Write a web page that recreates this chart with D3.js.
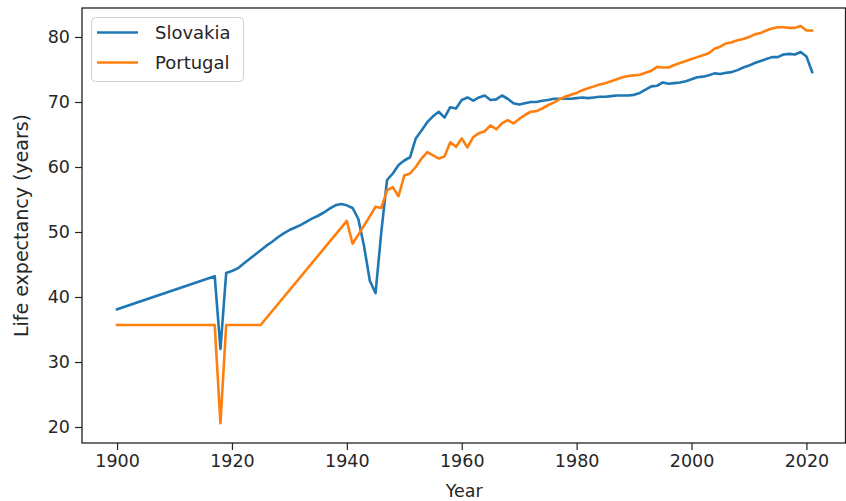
<!DOCTYPE html>
<html>
<head>
<meta charset="utf-8">
<script src="https://cdn.jsdelivr.net/npm/d3@7"></script>
<style>
  html, body { margin: 0; padding: 0; background: #fff; }
  svg { display: block; font-family: "DejaVu Sans", sans-serif; }
</style>
</head>
<body>
<svg id="chart" width="846" height="501"></svg>
<script>
// ---- data ----
const seriesNames = ["Slovakia", "Portugal"];
const seriesColors = ["#1f77b4", "#ff7f0e"];

const slovakiaYears = [1900, 1917, 1918].concat(d3.range(1919, 2022));
const slovakiaValues = [
  38.1, 43.2, 32.0,
  43.7, 44.0, 44.4, 45.1, 45.8, 46.5, 47.2, 47.9, 48.5, 49.2,
  49.8, 50.3, 50.7, 51.1, 51.6, 52.1, 52.5, 53.0, 53.6, 54.1,
  54.3, 54.1, 53.7, 52.0, 47.8, 42.5, 40.6, 50.0, 58.0, 59.0,
  60.3, 61.0, 61.5, 64.4, 65.6, 66.9, 67.8, 68.5, 67.6, 69.2,
  69.0, 70.3, 70.7, 70.2, 70.7, 71.0, 70.3, 70.4, 71.0, 70.5,
  69.8, 69.6, 69.8, 70.0, 70.0, 70.2, 70.3,
  70.5, 70.5, 70.5, 70.5, 70.6, 70.7, 70.6, 70.7, 70.8, 70.8,
  70.9, 71.0, 71.0, 71.0, 71.1, 71.4, 71.9, 72.4, 72.5, 73.0,
  72.8, 72.9, 73.0, 73.2, 73.5, 73.8, 73.9, 74.1, 74.4, 74.3,
  74.5, 74.6, 74.9, 75.3, 75.6, 76.0, 76.3, 76.6, 76.9, 76.9,
  77.3, 77.4, 77.3, 77.7, 77.0, 74.6
];

const portugalYears = [1900, 1917, 1918, 1919, 1925].concat(d3.range(1940, 2022));
const portugalValues = [
  35.7, 35.7, 20.6, 35.7, 35.7,
  51.7,
  48.2, 49.6, 51.0, 52.4, 53.9, 53.7, 56.4, 56.9, 55.5, 58.7,
  59.0, 60.0, 61.3, 62.3, 61.8, 61.3, 61.6, 63.8, 63.1, 64.4,
  63.0, 64.6, 65.2, 65.5, 66.4, 65.8, 66.7, 67.2, 66.7, 67.4,
  68.0, 68.5, 68.6, 69.0, 69.5,
  69.9, 70.4, 70.8, 71.1, 71.4, 71.8, 72.1, 72.4, 72.7, 72.9,
  73.2, 73.5, 73.8, 74.0, 74.1, 74.2, 74.5, 74.8, 75.4, 75.3,
  75.3, 75.7, 76.0, 76.3, 76.6, 76.9, 77.2, 77.5, 78.2, 78.5,
  79.0, 79.2, 79.5, 79.7, 80.0, 80.4, 80.6, 81.0, 81.3, 81.5,
  81.5, 81.4, 81.4, 81.7, 81.0, 81.0
];

const xTicks = [1900, 1920, 1940, 1960, 1980, 2000, 2020];
const yTicks = [20, 30, 40, 50, 60, 70, 80];
const xLabel = "Year";
const yLabel = "Life expectancy (years)";

// ---- layout ----
const svg = d3.select("#chart");
const plot = { left: 82, top: 8, right: 845.5, bottom: 443 };

const x = d3.scaleLinear().domain([1893.9, 2026.8]).range([plot.left, plot.right]);
const y = d3.scaleLinear().domain([17.54, 84.46]).range([plot.bottom, plot.top]);

const series = [
  { name: seriesNames[0], color: seriesColors[0], pts: slovakiaYears.map((yr, i) => [yr, slovakiaValues[i]]) },
  { name: seriesNames[1], color: seriesColors[1], pts: portugalYears.map((yr, i) => [yr, portugalValues[i]]) }
];

const line = d3.line().x(d => x(d[0])).y(d => y(d[1]));

svg.append("defs").append("clipPath").attr("id", "clip")
  .append("rect").attr("x", plot.left).attr("y", plot.top)
  .attr("width", plot.right - plot.left).attr("height", plot.bottom - plot.top);

const g = svg.append("g").attr("clip-path", "url(#clip)");
series.forEach(s => {
  g.append("path").datum(s.pts)
    .attr("d", line)
    .attr("fill", "none")
    .attr("stroke", s.color)
    .attr("stroke-width", 2.6)
    .attr("stroke-linejoin", "round")
    .attr("stroke-linecap", "square");
});

// axes
const fontSize = 17.5;
const xAxis = svg.append("g").attr("transform", `translate(0,${plot.bottom})`)
  .call(d3.axisBottom(x).tickValues(xTicks).tickFormat(d3.format("d")).tickSize(7).tickPadding(5));
const yAxis = svg.append("g").attr("transform", `translate(${plot.left},0)`)
  .call(d3.axisLeft(y).tickValues(yTicks).tickFormat(d3.format("d")).tickSize(7).tickPadding(5));

[xAxis, yAxis].forEach(a => {
  a.select(".domain").remove();
  a.selectAll(".tick line").attr("stroke", "#222").attr("stroke-width", 1.2);
  a.selectAll(".tick text").attr("fill", "#262626")
    .style("font-family", "'DejaVu Sans', sans-serif").style("font-size", fontSize + "px");
});

// frame
svg.append("rect")
  .attr("x", plot.left).attr("y", plot.top)
  .attr("width", plot.right - plot.left).attr("height", plot.bottom - plot.top)
  .attr("fill", "none").attr("stroke", "#222").attr("stroke-width", 1.3);

// axis labels
svg.append("text")
  .attr("x", (plot.left + plot.right) / 2 + 0.5).attr("y", 497)
  .attr("text-anchor", "middle").attr("fill", "#262626")
  .style("font-size", fontSize + "px").text(xLabel);

svg.append("text")
  .attr("transform", `translate(28,${(plot.top + plot.bottom) / 2}) rotate(-90)`)
  .attr("text-anchor", "middle").attr("fill", "#262626")
  .style("font-size", (fontSize + 1.5) + "px").text(yLabel);

// legend
const lg = svg.append("g");
lg.append("rect")
  .attr("x", 91.5).attr("y", 17.5).attr("width", 152).attr("height", 64).attr("rx", 4)
  .attr("fill", "#fff").attr("fill-opacity", 0.8)
  .attr("stroke", "#d0d0d0").attr("stroke-width", 1);
series.forEach((s, i) => {
  const cy = 32.5 + i * 30;
  lg.append("line").attr("x1", 97).attr("x2", 138).attr("y1", cy).attr("y2", cy)
    .attr("stroke", s.color).attr("stroke-width", 2.6);
  lg.append("text").attr("x", 155).attr("y", cy + 6.5)
    .attr("fill", "#262626").style("font-size", (fontSize + 0.5) + "px").text(s.name);
});
</script>
</body>
</html>
